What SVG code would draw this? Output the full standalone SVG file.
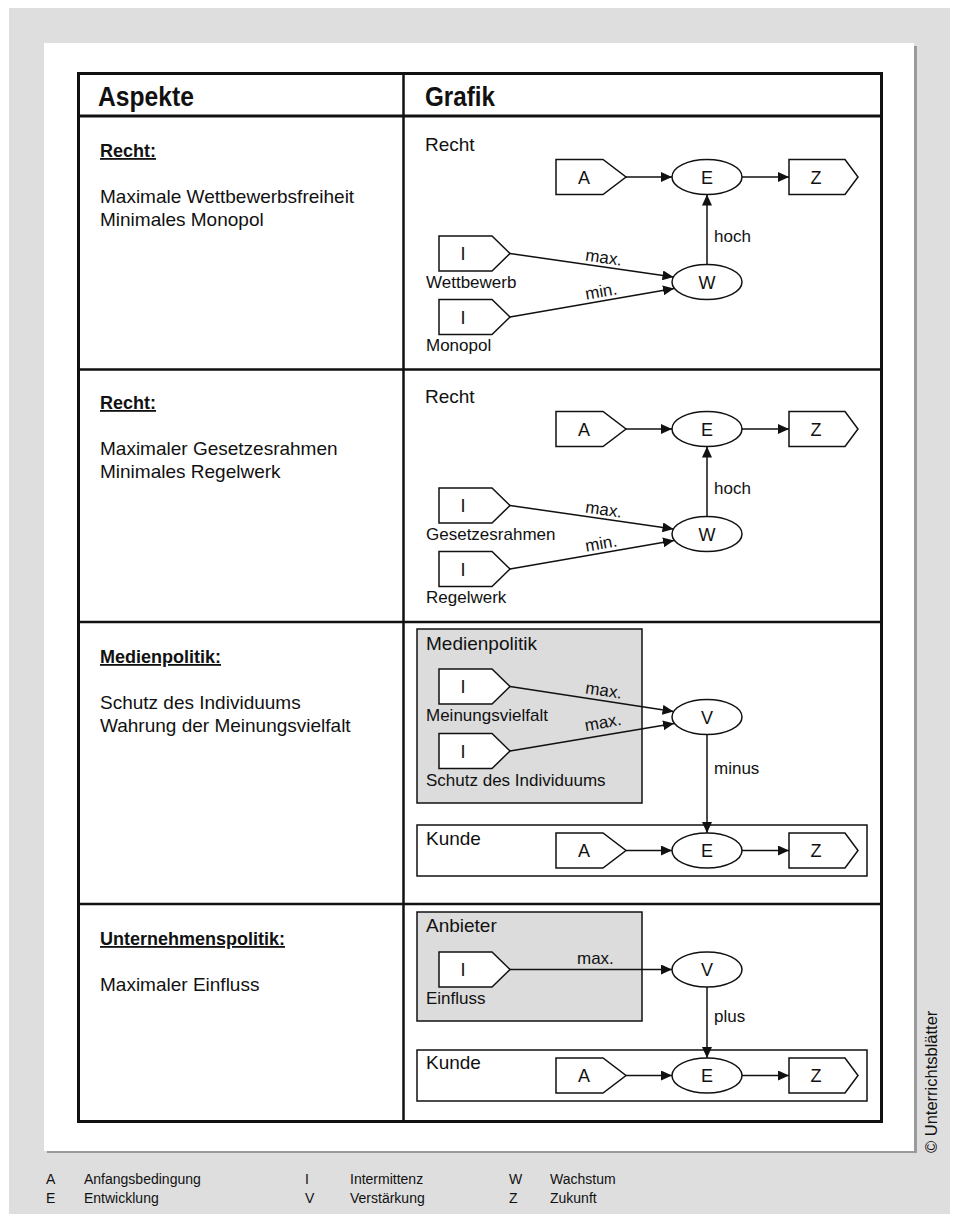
<svg xmlns="http://www.w3.org/2000/svg" width="956" height="1214" viewBox="0 0 956 1214">
<defs>
<style>
text { font-family: "Liberation Sans", Arial, sans-serif; fill: #111; }
.hdr { font-size: 28px; font-weight: bold; }
.lbl { font-size: 18px; font-weight: bold; text-decoration: underline; }
.body { font-size: 19px; }
.title { font-size: 19px; }
.node { font-size: 18px; text-anchor: middle; }
.small { font-size: 17px; }
.legend { font-size: 14px; }
.copy { font-size: 16.5px; }
.shape { fill: #fff; stroke: #111; stroke-width: 1.5; }
.group { fill: #dcdcdc; stroke: #111; stroke-width: 1.5; }
.frame { fill: #fff; stroke: #111; stroke-width: 1.5; }
.conn { fill: none; stroke: #111; stroke-width: 1.5; marker-end: url(#arrow); }
.rule { stroke: #111; stroke-width: 2.5; fill: none; }
</style>
<marker id="arrow" markerUnits="userSpaceOnUse" markerWidth="11" markerHeight="10" refX="11" refY="5" orient="auto" viewBox="0 0 11 10">
<path d="M0,0 L11,5 L0,10 z" fill="#111"/>
</marker>
</defs>

<!-- page background, sheet and drop shadow -->
<g id="page">
<rect x="0" y="0" width="956" height="1214" fill="#fff"/>
<rect x="9" y="8" width="941" height="1206" fill="#dedede"/>
<rect x="47" y="46" width="870" height="1107" fill="#9a9a9a"/>
<rect x="44" y="43" width="870" height="1108" fill="#fff"/>
</g>

<!-- table grid -->
<g id="table">
<rect x="78.5" y="73.5" width="803" height="1048" fill="none" stroke="#111" stroke-width="3"/>
<line x1="78.5" y1="116" x2="881.5" y2="116" stroke="#111" stroke-width="3"/>
<line class="rule" x1="403.5" y1="73.5" x2="403.5" y2="1121.5"/>
<line class="rule" x1="78.5" y1="369.5" x2="881.5" y2="369.5"/>
<line class="rule" x1="78.5" y1="622" x2="881.5" y2="622"/>
<line class="rule" x1="78.5" y1="904" x2="881.5" y2="904"/>
<text class="hdr" x="98" y="106" textLength="96" lengthAdjust="spacingAndGlyphs">Aspekte</text>
<text class="hdr" x="425" y="106" textLength="70" lengthAdjust="spacingAndGlyphs">Grafik</text>
</g>

<!-- left column: aspects -->
<g id="aspect-1">
<text class="lbl" x="100" y="157">Recht:</text>
<text class="body" x="100" y="203">Maximale Wettbewerbsfreiheit</text>
<text class="body" x="100" y="226">Minimales Monopol</text>
</g>
<g id="aspect-2">
<text class="lbl" x="100" y="409">Recht:</text>
<text class="body" x="100" y="455">Maximaler Gesetzesrahmen</text>
<text class="body" x="100" y="478">Minimales Regelwerk</text>
</g>
<g id="aspect-3">
<text class="lbl" x="100" y="663">Medienpolitik:</text>
<text class="body" x="100" y="709">Schutz des Individuums</text>
<text class="body" x="100" y="732">Wahrung der Meinungsvielfalt</text>
</g>
<g id="aspect-4">
<text class="lbl" x="100" y="945">Unternehmenspolitik:</text>
<text class="body" x="100" y="991">Maximaler Einfluss</text>
</g>

<!-- graphic 1: Recht / Wettbewerb -->
<g id="g1-title"><text class="title" x="425" y="151">Recht</text></g>
<g id="g1-A"><polygon class="shape" points="556,159.5 603,159.5 626,177 603,194.5 556,194.5"/><text class="node" x="584" y="183.5">A</text></g>
<g id="g1-E"><ellipse class="shape" cx="707" cy="177" rx="35" ry="17.5"/><text class="node" x="707" y="183.5">E</text></g>
<g id="g1-Z"><polygon class="shape" points="789,159.5 845,159.5 858,177 845,194.5 789,194.5"/><text class="node" x="816" y="183.5">Z</text></g>
<g id="g1-W"><ellipse class="shape" cx="707" cy="282" rx="35" ry="17.5"/><text class="node" x="707" y="288.5">W</text></g>
<g id="g1-I1"><polygon class="shape" points="439,236 492,236 510,253.5 492,271 439,271"/><text class="node" x="463" y="260">I</text><text class="small" x="426" y="288">Wettbewerb</text></g>
<g id="g1-I2"><polygon class="shape" points="439,299.5 492,299.5 510,317 492,334.5 439,334.5"/><text class="node" x="463" y="323.5">I</text><text class="small" x="426" y="351">Monopol</text></g>

<!-- graphic 2: Recht / Gesetzesrahmen -->
<g id="g2-title"><text class="title" x="425" y="403">Recht</text></g>
<g id="g2-A"><polygon class="shape" points="556,411.5 603,411.5 626,429 603,446.5 556,446.5"/><text class="node" x="584" y="435.5">A</text></g>
<g id="g2-E"><ellipse class="shape" cx="707" cy="429" rx="35" ry="17.5"/><text class="node" x="707" y="435.5">E</text></g>
<g id="g2-Z"><polygon class="shape" points="789,411.5 845,411.5 858,429 845,446.5 789,446.5"/><text class="node" x="816" y="435.5">Z</text></g>
<g id="g2-W"><ellipse class="shape" cx="707" cy="534" rx="35" ry="17.5"/><text class="node" x="707" y="540.5">W</text></g>
<g id="g2-I1"><polygon class="shape" points="439,488 492,488 510,505.5 492,523 439,523"/><text class="node" x="463" y="512">I</text><text class="small" x="426" y="540">Gesetzesrahmen</text></g>
<g id="g2-I2"><polygon class="shape" points="439,551.5 492,551.5 510,569 492,586.5 439,586.5"/><text class="node" x="463" y="575.5">I</text><text class="small" x="426" y="603">Regelwerk</text></g>

<!-- graphic 3: Medienpolitik / Kunde -->
<g id="g3-medienpolitik"><rect class="group" x="417" y="629" width="225" height="174"/><text class="title" x="426" y="650">Medienpolitik</text></g>
<g id="g3-I1"><polygon class="shape" points="439,669 492,669 510,686.5 492,704 439,704"/><text class="node" x="463" y="693">I</text><text class="small" x="426" y="721">Meinungsvielfalt</text></g>
<g id="g3-I2"><polygon class="shape" points="439,733.5 492,733.5 510,751 492,768.5 439,768.5"/><text class="node" x="463" y="757.5">I</text><text class="small" x="426" y="786">Schutz des Individuums</text></g>
<g id="g3-V"><ellipse class="shape" cx="707" cy="717" rx="35" ry="17.5"/><text class="node" x="707" y="723.5">V</text></g>
<g id="g3-kunde"><rect class="frame" x="417" y="825" width="450" height="51"/><text class="title" x="426" y="845">Kunde</text></g>
<g id="g3-A"><polygon class="shape" points="556,833 603,833 626,850.5 603,868 556,868"/><text class="node" x="584" y="857">A</text></g>
<g id="g3-E"><ellipse class="shape" cx="707" cy="850.5" rx="35" ry="17.5"/><text class="node" x="707" y="857">E</text></g>
<g id="g3-Z"><polygon class="shape" points="789,833 845,833 858,850.5 845,868 789,868"/><text class="node" x="816" y="857">Z</text></g>

<!-- graphic 4: Anbieter / Kunde -->
<g id="g4-anbieter"><rect class="group" x="417" y="912" width="225" height="109"/><text class="title" x="426" y="932">Anbieter</text></g>
<g id="g4-I"><polygon class="shape" points="439,952 492,952 510,969.5 492,987 439,987"/><text class="node" x="463" y="976">I</text><text class="small" x="426" y="1004">Einfluss</text></g>
<g id="g4-V"><ellipse class="shape" cx="707" cy="969.5" rx="35" ry="17.5"/><text class="node" x="707" y="976">V</text></g>
<g id="g4-kunde"><rect class="frame" x="417" y="1050" width="450" height="51"/><text class="title" x="426" y="1069">Kunde</text></g>
<g id="g4-A"><polygon class="shape" points="556,1058 603,1058 626,1075.5 603,1093 556,1093"/><text class="node" x="584" y="1082">A</text></g>
<g id="g4-E"><ellipse class="shape" cx="707" cy="1075.5" rx="35" ry="17.5"/><text class="node" x="707" y="1082">E</text></g>
<g id="g4-Z"><polygon class="shape" points="789,1058 845,1058 858,1075.5 845,1093 789,1093"/><text class="node" x="816" y="1082">Z</text></g>

<!-- connectors with their labels -->
<g id="connectors">
<path class="conn" d="M626,177 H672"/>
<path class="conn" d="M742,177 H789"/>
<path class="conn" d="M707,264.5 V194.5"/>
<path class="conn" d="M510,253.5 L673.5,277"/>
<path class="conn" d="M510,317 L674,288.5"/>
<text class="small" x="603" y="263" text-anchor="middle" transform="rotate(8 603 263)">max.</text>
<text class="small" x="602" y="297" text-anchor="middle" transform="rotate(-10 602 297)">min.</text>
<text class="small" x="714" y="242">hoch</text>

<path class="conn" d="M626,429 H672"/>
<path class="conn" d="M742,429 H789"/>
<path class="conn" d="M707,516.5 V446.5"/>
<path class="conn" d="M510,505.5 L673.5,529"/>
<path class="conn" d="M510,569 L674,540.5"/>
<text class="small" x="603" y="515" text-anchor="middle" transform="rotate(8 603 515)">max.</text>
<text class="small" x="602" y="549" text-anchor="middle" transform="rotate(-10 602 549)">min.</text>
<text class="small" x="714" y="494">hoch</text>

<path class="conn" d="M510,686.5 L673.5,711.5"/>
<path class="conn" d="M510,751 L674,723.5"/>
<path class="conn" d="M707,734.5 V833"/>
<path class="conn" d="M626,850.5 H672"/>
<path class="conn" d="M742,850.5 H789"/>
<text class="small" x="603" y="696" text-anchor="middle" transform="rotate(8.5 603 696)">max.</text>
<text class="small" x="604" y="728" text-anchor="middle" transform="rotate(-10 604 728)">max.</text>
<text class="small" x="714" y="774">minus</text>

<path class="conn" d="M510,969.5 H672"/>
<path class="conn" d="M707,987 V1058"/>
<path class="conn" d="M626,1075.5 H672"/>
<path class="conn" d="M742,1075.5 H789"/>
<text class="small" x="577" y="964">max.</text>
<text class="small" x="714" y="1022">plus</text>
</g>

<!-- legend -->
<g id="legend">
<text class="legend" x="46" y="1184">A</text><text class="legend" x="84" y="1184">Anfangsbedingung</text>
<text class="legend" x="46" y="1203">E</text><text class="legend" x="84" y="1203">Entwicklung</text>
<text class="legend" x="305" y="1184">I</text><text class="legend" x="350" y="1184">Intermittenz</text>
<text class="legend" x="305" y="1203">V</text><text class="legend" x="350" y="1203">Verstärkung</text>
<text class="legend" x="509" y="1184">W</text><text class="legend" x="550" y="1184">Wachstum</text>
<text class="legend" x="509" y="1203">Z</text><text class="legend" x="550" y="1203">Zukunft</text>
</g>

<!-- publisher credit, set vertically -->
<g id="credit">
<text class="copy" transform="translate(937,1153) rotate(-90)">© Unterrichtsblätter</text>
</g>
</svg>
